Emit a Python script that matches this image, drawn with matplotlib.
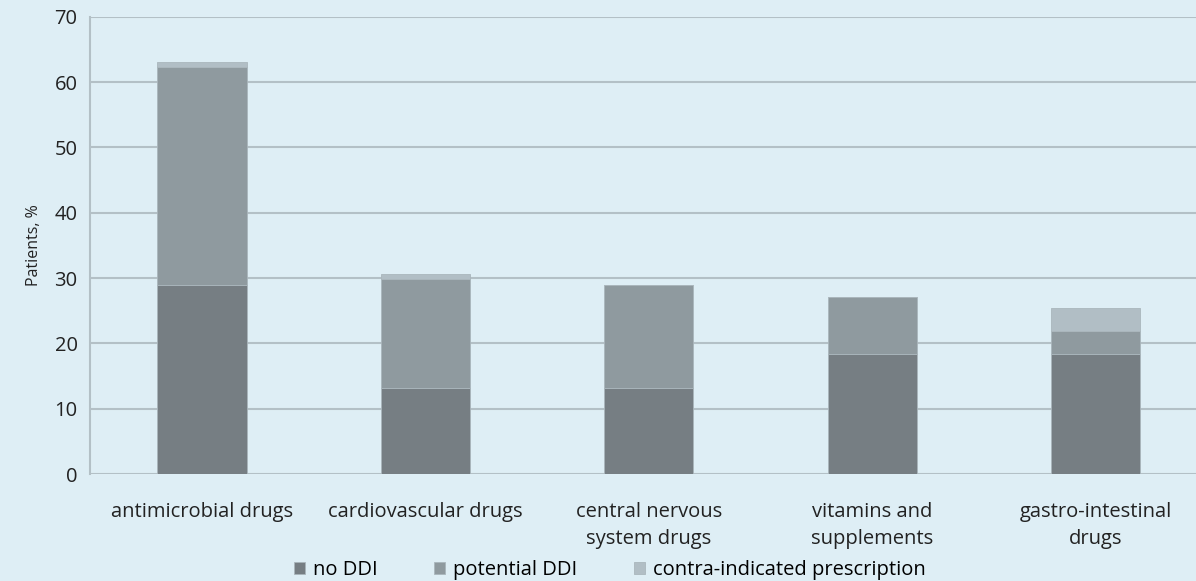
import matplotlib.pyplot as plt
import numpy as np

categories = ['antimicrobial drugs', 'cardiovascular drugs', 'central nervous\nsystem drugs',
              'vitamins and\nsupplements', 'gastro-intestinal\ndrugs']
no_ddi = [28.9, 13.2, 13.2, 18.4, 18.4]
potential_ddi = [33.4, 16.6, 15.7, 8.7, 3.5]
contra = [0.8, 0.8, 0.0, 0.0, 3.5]

series = [no_ddi, potential_ddi, contra]
names = ['no DDI', 'potential DDI', 'contra-indicated prescription']
colors = ['#767e83', '#8f9a9f', '#b1bec5']

plt.rcParams['font.family'] = ['Open Sans', 'DejaVu Sans']
bg = '#deeef5'

fig = plt.figure(figsize=(11.96, 5.81), dpi=100, facecolor=bg)
ax = fig.add_axes([0.0753, 0.184, 0.925, 0.787], facecolor=bg)

x = np.arange(len(categories))
bottom = np.zeros(len(categories))
for vals, name, c in zip(series, names, colors):
    ax.bar(x, vals, width=0.4, bottom=bottom, color=c, label=name,
           edgecolor='#aab6bc', linewidth=0.6, zorder=3)
    bottom += np.array(vals)

ax.set_ylim(0, 70)
ax.set_xlim(-0.5, x[-1] + 0.45)
ax.set_yticks(range(0, 71, 10))
ax.yaxis.grid(True, color='#b3c0c6', linewidth=1.5, zorder=0)
ax.set_xticks(x)
ax.set_xticklabels(categories, fontsize=14.5, color='#222222', linespacing=1.45)
ax.tick_params(axis='y', labelsize=14.5, labelcolor='#222222', length=0, pad=9)
ax.tick_params(axis='x', length=0, pad=20)
for s in ['top', 'right', 'bottom']:
    ax.spines[s].set_visible(False)
ax.spines['left'].set_color('#b3c0c6')
ax.spines['left'].set_linewidth(1.5)
ax.set_ylabel('Patients, %', fontsize=11.5, color='#222222', labelpad=9)

fig.legend(loc='lower center', bbox_to_anchor=(0.51, -0.03), ncol=3, frameon=False,
           fontsize=14.5, handlelength=0.55, handleheight=0.55, handletextpad=0.4,
           columnspacing=2.8)

fig.savefig('out.png', dpi=100, facecolor=bg)
